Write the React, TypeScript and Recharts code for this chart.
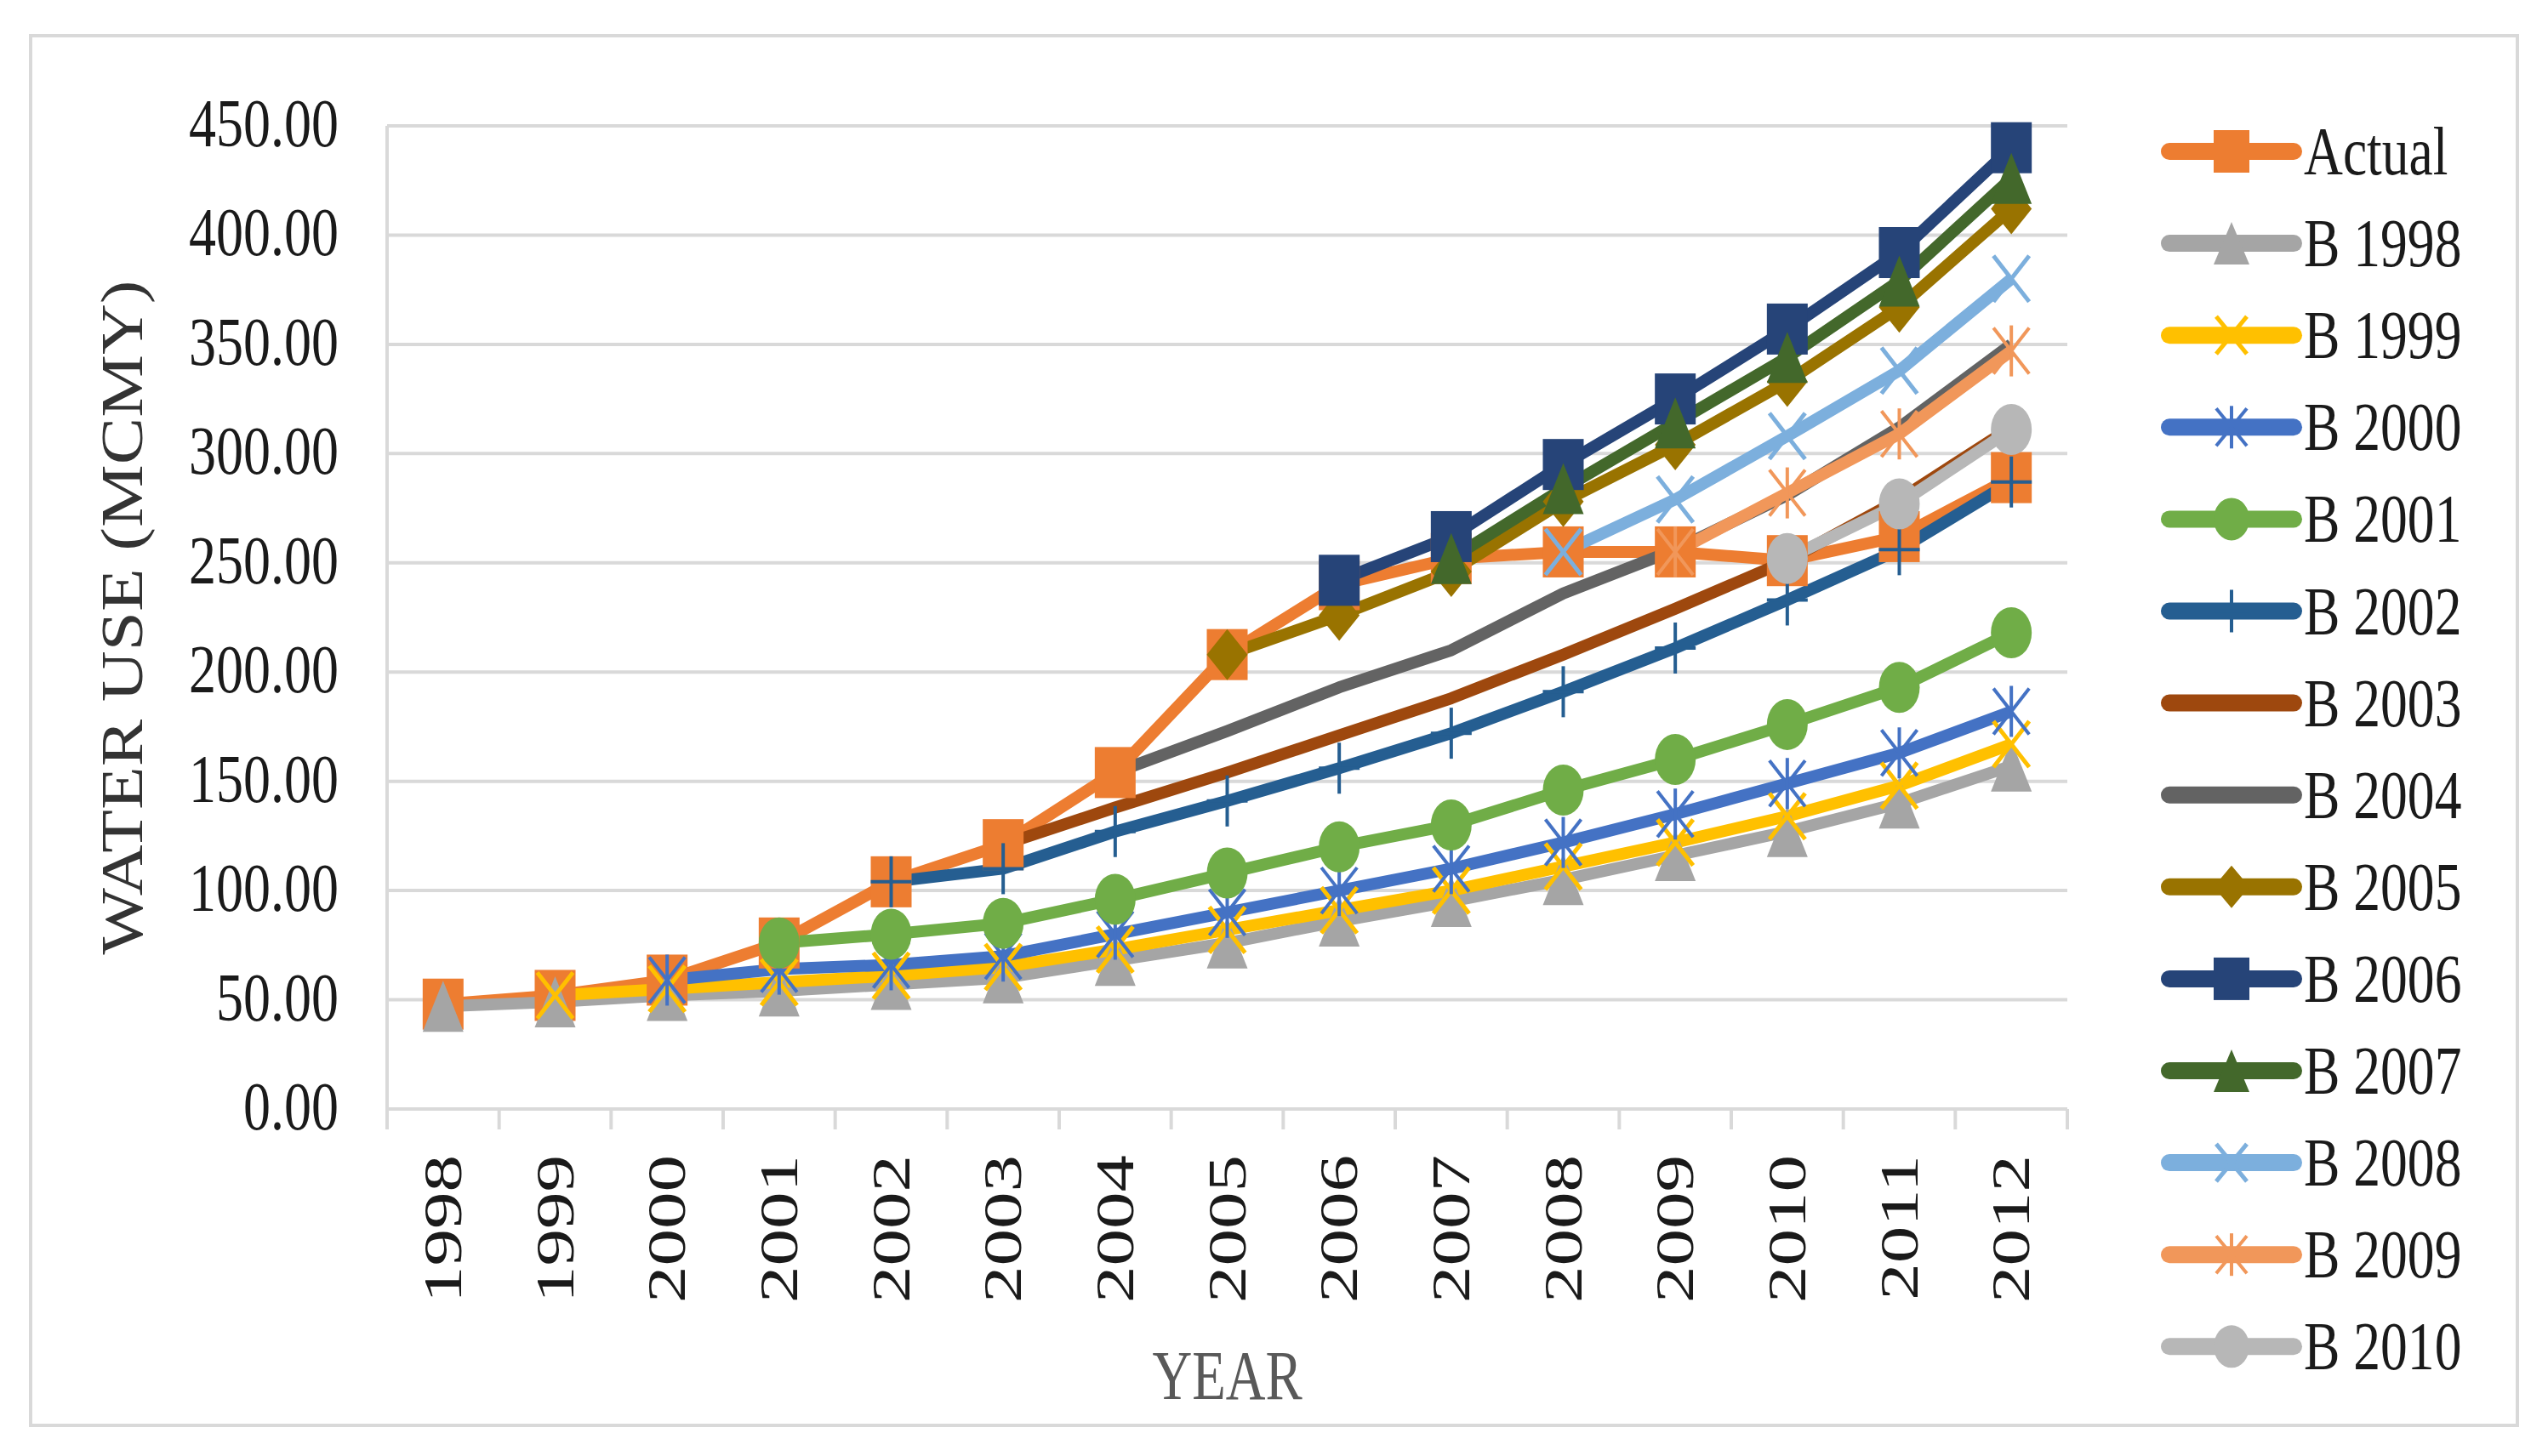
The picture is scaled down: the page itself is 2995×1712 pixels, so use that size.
import { CartesianGrid, ComposedChart, Legend, Line, XAxis, YAxis } from 'recharts'

const years = ['1998', '1999', '2000', '2001', '2002', '2003', '2004', '2005', '2006', '2007', '2008', '2009', '2010', '2011', '2012']

const actual = [48, 52, 59, 76, 104, 121, 154, 208, 240, 252, 255, 255, 251, 262, 289]
const b1998 = [47, 49, 52, 54, 57, 60, 68, 76, 86, 95, 105, 116, 127, 140, 157]
const b1999 = [null, 52, 55, 58, 61, 65, 73, 82, 91, 100, 111, 122, 134, 148, 167]
const b2000 = [null, null, 59, 64, 66, 70, 80, 90, 100, 110, 122, 135, 149, 163, 182]
const b2001 = [null, null, null, 76, 80, 85, 96, 108, 120, 130, 146, 160, 176, 193, 218]
const b2002 = [null, null, null, null, 104, 110, 127, 141, 156, 172, 191, 211, 233, 256, 287]
const b2003 = [null, null, null, null, null, 121, 138, 154, 171, 188, 208, 229, 251, 279, 312]
const b2004 = [null, null, null, null, null, null, 154, 173, 193, 210, 236, 256, 281, 312, 350]
const b2005 = [null, null, null, null, null, null, null, 208, 226, 246, 278, 304, 333, 367, 412]
const b2006 = [null, null, null, null, null, null, null, null, 242, 262, 295, 325, 357, 392, 440]
const b2007 = [null, null, null, null, null, null, null, null, null, 252, 284, 314, 344, 379, 426]
const b2008 = [null, null, null, null, null, null, null, null, null, null, 255, 279, 308, 338, 380]
const b2009 = [null, null, null, null, null, null, null, null, null, null, null, 255, 282, 309, 347]
const b2010 = [null, null, null, null, null, null, null, null, null, null, null, null, 252, 277, 311]

const yTicks = [0, 50, 100, 150, 200, 250, 300, 350, 400, 450]

const series = [
  { key: 'actual', name: 'Actual', color: '#ed7d31', marker: 'square', values: actual },
  { key: 'b1998', name: 'B 1998', color: '#a5a5a5', marker: 'triangle', values: b1998 },
  { key: 'b1999', name: 'B 1999', color: '#ffc000', marker: 'x', values: b1999 },
  { key: 'b2000', name: 'B 2000', color: '#4472c4', marker: 'star', values: b2000 },
  { key: 'b2001', name: 'B 2001', color: '#70ad47', marker: 'circle', values: b2001 },
  { key: 'b2002', name: 'B 2002', color: '#255e91', marker: 'plus', values: b2002 },
  { key: 'b2003', name: 'B 2003', color: '#9e480e', marker: 'none', values: b2003 },
  { key: 'b2004', name: 'B 2004', color: '#636363', marker: 'none', values: b2004 },
  { key: 'b2005', name: 'B 2005', color: '#997300', marker: 'diamond', values: b2005 },
  { key: 'b2006', name: 'B 2006', color: '#264478', marker: 'square', values: b2006 },
  { key: 'b2007', name: 'B 2007', color: '#43682b', marker: 'triangle', values: b2007 },
  { key: 'b2008', name: 'B 2008', color: '#7cafdd', marker: 'x', values: b2008 },
  { key: 'b2009', name: 'B 2009', color: '#f1975a', marker: 'star', values: b2009 },
  { key: 'b2010', name: 'B 2010', color: '#b7b7b7', marker: 'circle', values: b2010 },
]

const rows = years.map((year, i) => {
  const row: Record<string, any> = { year }
  series.forEach((s) => {
    row[s.key] = s.values[i]
  })
  return row
})

const FONT = "'Liberation Serif', 'Times New Roman', serif"
const GRID = '#d9d9d9'

function Marker({ kind, cx, cy, color, w, h }: any) {
  switch (kind) {
    case 'square':
      return <rect x={cx - w / 2} y={cy - h / 2} width={w} height={h} fill={color} />
    case 'triangle':
      return (
        <polygon
          points={`${cx},${cy - h / 2} ${cx + w / 2},${cy + h / 2} ${cx - w / 2},${cy + h / 2}`}
          fill={color}
        />
      )
    case 'diamond':
      return (
        <polygon
          points={`${cx},${cy - h / 2} ${cx + w / 2},${cy} ${cx},${cy + h / 2} ${cx - w / 2},${cy}`}
          fill={color}
        />
      )
    case 'circle':
      return <ellipse cx={cx} cy={cy} rx={w / 2} ry={h / 2} fill={color} />
    case 'x':
      return (
        <g stroke={color} strokeWidth={5}>
          <line x1={cx - w / 2 + 3} y1={cy - h / 2 + 3} x2={cx + w / 2 - 3} y2={cy + h / 2 - 3} />
          <line x1={cx + w / 2 - 3} y1={cy - h / 2 + 3} x2={cx - w / 2 + 3} y2={cy + h / 2 - 3} />
        </g>
      )
    case 'star':
      return (
        <g stroke={color} strokeWidth={4}>
          <line x1={cx - w / 2 + 3} y1={cy - h / 2 + 3} x2={cx + w / 2 - 3} y2={cy + h / 2 - 3} />
          <line x1={cx + w / 2 - 3} y1={cy - h / 2 + 3} x2={cx - w / 2 + 3} y2={cy + h / 2 - 3} />
          <line x1={cx} y1={cy - h / 2} x2={cx} y2={cy + h / 2} />
        </g>
      )
    case 'plus':
      return (
        <g stroke={color} strokeWidth={4}>
          <line x1={cx} y1={cy - h / 2} x2={cx} y2={cy + h / 2} />
          <line x1={cx - w / 2} y1={cy} x2={cx + w / 2} y2={cy} />
        </g>
      )
    default:
      return null
  }
}

const dotFor = (s: any) => (props: any) => {
  const { cx, cy, index, value } = props
  const k = `${s.key}-${index}`
  if (s.marker === 'none' || value == null || cx == null || cy == null) return <g key={k} />
  return (
    <g key={k}>
      <Marker kind={s.marker} cx={cx} cy={cy} color={s.color} w={48} h={60} />
    </g>
  )
}

const YTick = (props: any) => {
  const { x, y, payload } = props
  return (
    <text
      transform={`translate(${x},${y + 24}) scale(0.79,1)`}
      textAnchor="end"
      fontSize={81}
      fontFamily={FONT}
      fill="#1a1a1a"
    >
      {payload.value.toFixed(2)}
    </text>
  )
}

const XTick = (props: any) => {
  const { x, y, payload, index, visibleTicksCount, width } = props
  const half = payload.offset || width / visibleTicksCount / 2
  return (
    <g>
      <line x1={x - half} x2={x - half} y1={y} y2={y + 24} stroke={GRID} strokeWidth={4} />
      {index === visibleTicksCount - 1 && (
        <line x1={x + half} x2={x + half} y1={y} y2={y + 24} stroke={GRID} strokeWidth={4} />
      )}
      <text
        transform={`translate(${x + 21},${y + 54}) scale(0.72,1) rotate(-90)`}
        textAnchor="end"
        fontSize={87}
        fontFamily={FONT}
        fill="#1a1a1a"
      >
        {payload.value}
      </text>
    </g>
  )
}

const LegendBox = () => (
  <svg width={440} height={1540}>
    {series.map((s, i) => {
      const cy = 58 + i * 108.1
      return (
        <g key={s.key}>
          <line x1={10} x2={156} y1={cy} y2={cy} stroke={s.color} strokeWidth={20} strokeLinecap="round" />
          <Marker kind={s.marker} cx={83} cy={cy} color={s.color} w={42} h={50} />
          <text
            transform={`translate(168,${cy + 27}) scale(0.785,1)`}
            fontSize={81}
            fontFamily={FONT}
            fill="#1a1a1a"
          >
            {s.name}
          </text>
        </g>
      )
    })}
  </svg>
)

export default function App() {
  return (
    <div style={{ position: 'absolute', left: 0, top: 0, width: 2995, height: 1712, background: '#fff' }}>
      <div
        style={{
          position: 'absolute',
          left: 34,
          top: 40,
          width: 2927,
          height: 1638,
          border: `4px solid ${GRID}`,
          boxSizing: 'border-box',
        }}
      />
      <div style={{ position: 'absolute', left: 0, top: 0 }}>
        <ComposedChart
          width={2995}
          height={1712}
          data={rows}
          margin={{ top: 148, right: 565, bottom: 168, left: 0 }}
        >
          <CartesianGrid vertical={false} stroke={GRID} strokeWidth={4} />
          <XAxis
            dataKey="year"
            scale="band"
            height={240}
            interval={0}
            tickSize={0}
            tickMargin={0}
            tickLine={false}
            axisLine={{ stroke: GRID, strokeWidth: 4 }}
            tick={<XTick />}
            label={{
              content: (p: any) => {
                const vb = p.viewBox
                return (
                  <text
                    transform={`translate(${vb.x + vb.width / 2},1645) scale(0.78,1)`}
                    textAnchor="middle"
                    fontSize={83}
                    fontFamily={FONT}
                    fill="#595959"
                  >
                    YEAR
                  </text>
                )
              },
            }}
          />
          <YAxis
            width={455}
            domain={[0, 450]}
            ticks={yTicks}
            interval={0}
            tickLine={false}
            tickSize={57}
            tickMargin={0}
            axisLine={{ stroke: GRID, strokeWidth: 4 }}
            tick={<YTick />}
            label={{
              content: (p: any) => {
                const vb = p.viewBox
                return (
                  <text
                    transform={`translate(167,${vb.y + vb.height / 2}) scale(0.85,1) rotate(-90)`}
                    textAnchor="middle"
                    fontSize={83}
                    fontFamily={FONT}
                    fill="#333333"
                  >
                    WATER USE (MCMY)
                  </text>
                )
              },
            }}
          />
          <Legend
            layout="vertical"
            align="center"
            verticalAlign="middle"
            wrapperStyle={{ position: 'absolute', left: 2540, top: 120, width: 440, height: 1540 }}
            content={() => <LegendBox />}
          />
          {series.map((s) => (
            <Line
              key={s.key}
              type="linear"
              dataKey={s.key}
              name={s.name}
              stroke={s.color}
              strokeWidth={14}
              strokeLinejoin="round"
              dot={dotFor(s)}
              activeDot={false}
              isAnimationActive={false}
            />
          ))}
        </ComposedChart>
      </div>
    </div>
  )
}
